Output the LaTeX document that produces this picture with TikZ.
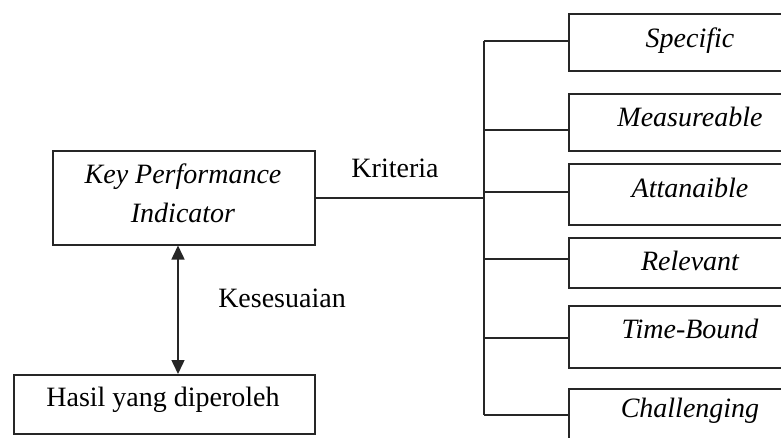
\documentclass[tikz,border=0pt]{standalone}
\usepackage{fontspec}
\setmainfont{Liberation Serif}
\usetikzlibrary{arrows.meta}
\begin{document}
\begin{tikzpicture}[x=1pt,y=-1pt,
  box/.style={draw=black!85, line width=1.5pt, rectangle, inner sep=0pt, anchor=north west},
  txt/.style={font=\fontsize{28}{34}\selectfont, inner sep=0pt, anchor=base},
  itxt/.style={font=\fontsize{28}{34}\selectfont\itshape, inner sep=0pt, anchor=base},
  wire/.style={draw=black!85, line width=1.5pt},
  tip/.style={Triangle[length=14pt,width=13pt]}]
\useasboundingbox (0,0) rectangle (781,437);
\clip (0,0) rectangle (781,437);
% left boxes
\node[box, minimum width=262pt, minimum height=94pt] (kpi) at (52,150) {};
\node[itxt] (kpi1) at (183,183) {Key Performance};
\node[itxt] (kpi2) at (183,222) {Indicator};
\node[box, minimum width=301pt, minimum height=59pt] (hasil) at (13,374) {};
\node[txt] (hasilt) at (163,406) {Hasil yang diperoleh};
% arrow
\draw[wire, {Triangle[length=14pt,width=13pt]}-{Triangle[length=14pt,width=13pt]}] (kpi.south -| 178,0) -- (hasil.north -| 178,0);
\node[txt] (kes) at (282,307) {Kesesuaian};
% right boxes
\node[box, minimum width=244pt, minimum height=57pt] (s1) at (568,13) {};
\node[box, minimum width=244pt, minimum height=57pt] (s2) at (568,93) {};
\node[box, minimum width=244pt, minimum height=61pt] (s3) at (568,163) {};
\node[box, minimum width=244pt, minimum height=50pt] (s4) at (568,237) {};
\node[box, minimum width=244pt, minimum height=62pt] (s5) at (568,305) {};
\node[box, minimum width=244pt, minimum height=60pt] (s6) at (568,388) {};
\node[itxt] (t1) at (690,47) {Specific};
\node[itxt] (t2) at (690,126) {Measureable};
\node[itxt] (t3) at (690,197) {Attanaible};
\node[itxt] (t4) at (690,270) {Relevant};
\node[itxt] (t5) at (690,338) {Time-Bound};
\node[itxt] (t6) at (690,417) {Challenging};
% bus
\coordinate (b1) at (484,41);
\coordinate (b2) at (484,130);
\coordinate (b3) at (484,192);
\coordinate (b4) at (484,259);
\coordinate (b5) at (484,338);
\coordinate (b6) at (484,415);
\coordinate (bk) at (484,198);
\draw[wire] (b1) -- (b6);
\draw[wire] (kpi.east |- bk) -- (bk);
\node[txt] (krit) at (395,177) {Kriteria};
\draw[wire] (b1) -- (b1 -| s1.west);
\draw[wire] (b2) -- (b2 -| s2.west);
\draw[wire] (b3) -- (b3 -| s3.west);
\draw[wire] (b4) -- (b4 -| s4.west);
\draw[wire] (b5) -- (b5 -| s5.west);
\draw[wire] (b6) -- (b6 -| s6.west);
\end{tikzpicture}
\end{document}
